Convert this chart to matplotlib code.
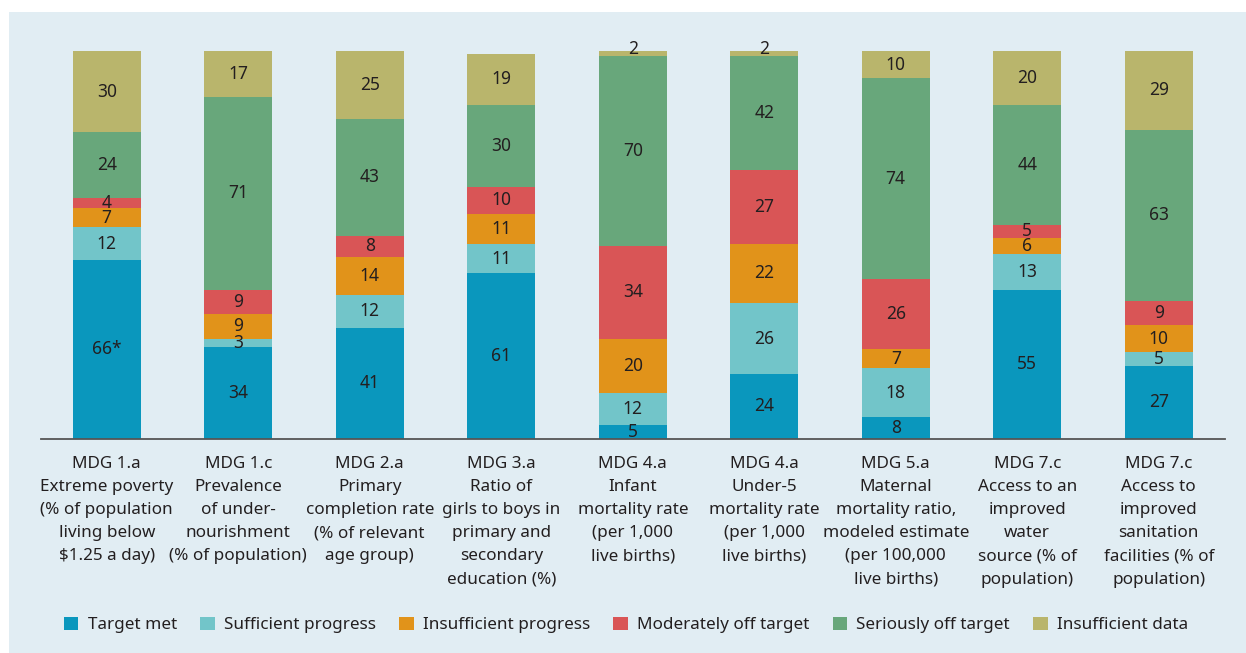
import matplotlib
matplotlib.use("Agg")
import matplotlib.pyplot as plt
from matplotlib.patches import Rectangle, Patch

categories = [
    "MDG 1.a\nExtreme poverty\n(% of population\nliving below\n\\$1.25 a day)",
    "MDG 1.c\nPrevalence\nof under-\nnourishment\n(% of population)",
    "MDG 2.a\nPrimary\ncompletion rate\n(% of relevant\nage group)",
    "MDG 3.a\nRatio of\ngirls to boys in\nprimary and\nsecondary\neducation (%)",
    "MDG 4.a\nInfant\nmortality rate\n(per 1,000\nlive births)",
    "MDG 4.a\nUnder-5\nmortality rate\n(per 1,000\nlive births)",
    "MDG 5.a\nMaternal\nmortality ratio,\nmodeled estimate\n(per 100,000\nlive births)",
    "MDG 7.c\nAccess to an\nimproved\nwater\nsource (% of\npopulation)",
    "MDG 7.c\nAccess to\nimproved\nsanitation\nfacilities (% of\npopulation)",
]
series_names = ["Target met", "Sufficient progress", "Insufficient progress",
                "Moderately off target", "Seriously off target", "Insufficient data"]
target_met = [66, 34, 41, 61, 5, 24, 8, 55, 27]
sufficient = [12, 3, 12, 11, 12, 26, 18, 13, 5]
insufficient = [7, 9, 14, 11, 20, 22, 7, 6, 10]
moderately = [4, 9, 8, 10, 34, 27, 26, 5, 9]
seriously = [24, 71, 43, 30, 70, 42, 74, 44, 63]
no_data = [30, 17, 25, 19, 2, 2, 10, 20, 29]
first_label_suffix = ["*", "", "", "", "", "", "", "", ""]

colors = ["#0a97bd", "#72c5c9", "#e1931a", "#d95556", "#68a77b", "#b9b56c"]
bg = "#e1edf3"
txt = "#231f20"

plt.rcParams['font.family'] = ['Noto Sans', 'DejaVu Sans']

fig = plt.figure(figsize=(12.46, 6.53), dpi=100)
fig.patch.set_facecolor("white")
W, H = 1246, 653
fig.add_artist(Rectangle((9 / W, 0), 1 - 9 / W, 1 - 12 / H, transform=fig.transFigure,
                         facecolor=bg, edgecolor="none", zorder=-10))

ax = fig.add_axes([41 / W, 1 - 439 / H, (1224.5 - 41) / W, (439 - 51) / H])
ax.set_facecolor("none")
all_series = [target_met, sufficient, insufficient, moderately, seriously, no_data]
x = list(range(len(categories)))
bottoms = [0] * len(categories)
for si, (vals, col) in enumerate(zip(all_series, colors)):
    ax.bar(x, vals, bottom=bottoms, width=0.515, color=col, edgecolor="none", zorder=2)
    for i, v in enumerate(vals):
        lab = str(v) + (first_label_suffix[i] if si == 0 else "")
        yc = bottoms[i] + v / 2
        if v <= 2:
            yc = bottoms[i] + v + 0.9
        ax.text(i, yc, lab, ha="center", va="center", fontsize=12.5, color=txt,
                zorder=3, clip_on=False)
    bottoms = [b + v for b, v in zip(bottoms, vals)]

ax.set_xlim(-0.5, 8.5)
ax.set_ylim(0, 143)
for s in ["top", "right", "left"]:
    ax.spines[s].set_visible(False)
ax.spines["bottom"].set_color("#555555")
ax.spines["bottom"].set_linewidth(1.3)
ax.spines["bottom"].set_zorder(4)
ax.set_yticks([])
ax.set_xticks(x)
ax.set_xticklabels(categories, fontsize=12.3, color=txt, linespacing=1.6)
ax.tick_params(axis="x", length=0, pad=12)

handles = [Patch(facecolor=c, edgecolor="none") for c in colors]
fig.legend(handles, series_names, loc="center", bbox_to_anchor=(626 / W, 1 - 625 / H),
           ncol=6, frameon=False, fontsize=12.3, handlelength=0.85, handleheight=0.85,
           handletextpad=0.55, columnspacing=1.35, labelcolor=txt)

fig.savefig("out.png", dpi=100)
